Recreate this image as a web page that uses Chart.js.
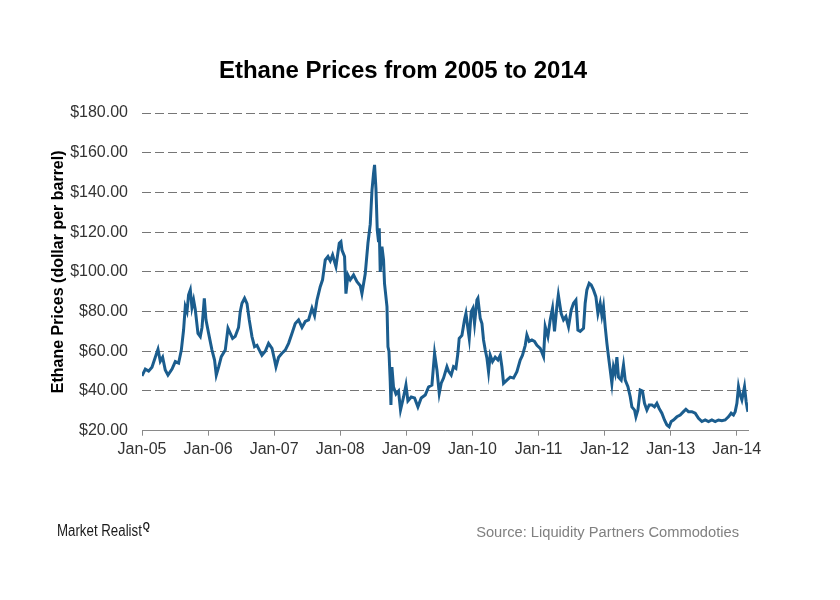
<!DOCTYPE html>
<html>
<head>
<meta charset="utf-8">
<script src="https://cdn.jsdelivr.net/npm/chart.js@4/dist/chart.umd.min.js"></script>
<style>
  html, body { margin: 0; padding: 0; background: #ffffff; }
  #wrap { position: relative; width: 840px; height: 600px; overflow: hidden; }
  #c { position: absolute; left: 0; top: 0; }
  .txt { position: absolute; white-space: nowrap; }
  #title { left: 0; width: 806px; top: 56px; text-align: center; font: bold 24px/28px "Liberation Sans", Arial, sans-serif; color: #000; }
  #brand { left: 57px; top: 521px; font: 16px/20px "Liberation Sans Narrow", "Liberation Sans", Arial, sans-serif; color: #1a1a1a; transform: scaleX(0.83); transform-origin: left center; }
  #brand sup { font: bold 11px/10px "Liberation Sans", Arial, sans-serif; vertical-align: 6px; margin-left: 1px; }
  #source { right: 101px; top: 523px; font: 14.7px/18px "Liberation Sans", Arial, sans-serif; color: #808080; }
</style>
</head>
<body>
<div id="wrap">
  <canvas id="c" width="840" height="600"></canvas>
  <div class="txt" id="title">Ethane Prices from 2005 to 2014</div>
  <div class="txt" id="brand">Market Realist<sup>Q</sup></div>
  <div class="txt" id="source">Source: Liquidity Partners Commodoties</div>
</div>
<script>
// ---- data (time in decimal years, price in $/barrel) ----
const timeYears = [
  2005.000, 2005.050, 2005.100, 2005.151, 2005.201, 2005.242, 2005.277, 2005.312, 2005.352, 2005.393,
  2005.454, 2005.504, 2005.554, 2005.595, 2005.629, 2005.655, 2005.681, 2005.705, 2005.731, 2005.756,
  2005.781, 2005.806, 2005.847, 2005.882, 2005.908, 2005.943, 2005.968,
  2006.008, 2006.059, 2006.098, 2006.124, 2006.159, 2006.200, 2006.260, 2006.301, 2006.336, 2006.371,
  2006.411, 2006.461, 2006.487, 2006.513, 2006.552, 2006.589, 2006.623, 2006.664, 2006.703, 2006.740,
  2006.775, 2006.815, 2006.865, 2006.915, 2006.967,
  2007.006, 2007.027, 2007.067, 2007.118, 2007.168, 2007.218, 2007.269, 2007.319, 2007.369, 2007.421,
  2007.471, 2007.520, 2007.572, 2007.611, 2007.648, 2007.697, 2007.732, 2007.773, 2007.814, 2007.849,
  2007.884, 2007.935, 2007.985,
  2008.010, 2008.026, 2008.065, 2008.086, 2008.116, 2008.151, 2008.201, 2008.253, 2008.303, 2008.328,
  2008.378, 2008.419, 2008.454, 2008.480, 2008.504, 2008.519, 2008.540, 2008.560, 2008.580, 2008.590,
  2008.605, 2008.631, 2008.655, 2008.670, 2008.707, 2008.722, 2008.737, 2008.756, 2008.767, 2008.782,
  2008.806, 2008.843, 2008.882, 2008.912, 2008.958, 2008.994,
  2009.024, 2009.074, 2009.124, 2009.175, 2009.225, 2009.286, 2009.336, 2009.387, 2009.427, 2009.463,
  2009.498, 2009.528, 2009.563, 2009.614, 2009.638, 2009.679, 2009.714, 2009.750, 2009.780, 2009.800,
  2009.841, 2009.880, 2009.902, 2009.932, 2009.952, 2009.982,
  2010.008, 2010.032, 2010.068, 2010.083, 2010.118, 2010.144, 2010.168, 2010.194, 2010.219, 2010.244,
  2010.269, 2010.304, 2010.345, 2010.386, 2010.421, 2010.446, 2010.471, 2010.522, 2010.572, 2010.622,
  2010.673, 2010.723, 2010.758, 2010.799, 2010.824, 2010.859, 2010.900, 2010.939, 2010.976,
  2011.026, 2011.076, 2011.101, 2011.142, 2011.177, 2011.212, 2011.242, 2011.278, 2011.300, 2011.343,
  2011.378, 2011.414, 2011.454, 2011.495, 2011.530, 2011.566, 2011.596, 2011.631, 2011.681, 2011.706,
  2011.732, 2011.767, 2011.797, 2011.832, 2011.868, 2011.899, 2011.933, 2011.959, 2011.983,
  2012.009, 2012.035, 2012.059, 2012.085, 2012.110, 2012.134, 2012.160, 2012.186, 2012.210, 2012.251,
  2012.286, 2012.312, 2012.353, 2012.388, 2012.413, 2012.453, 2012.474, 2012.504, 2012.539, 2012.573,
  2012.604, 2012.640, 2012.675, 2012.716, 2012.755, 2012.791, 2012.826, 2012.867, 2012.906, 2012.943,
  2012.977,
  2013.008, 2013.042, 2013.094, 2013.144, 2013.194, 2013.230, 2013.269, 2013.321, 2013.371, 2013.421,
  2013.472, 2013.522, 2013.572, 2013.623, 2013.673, 2013.723, 2013.775, 2013.824, 2013.874, 2013.915,
  2013.950, 2013.976,
  2014.002, 2014.026, 2014.052, 2014.077, 2014.117, 2014.142, 2014.160, 2014.170
];

const ethanePrices = [
  47.6, 51.0, 50.0, 52.0, 57.0, 61.0, 55.0, 57.0, 50.6, 48.0,
  51.0, 54.8, 54.0, 60.6, 70.7, 82.5, 80.0, 88.4, 90.9, 82.0,
  85.8, 81.0, 69.0, 67.4, 72.0, 86.7, 75.8,
  69.0, 60.6, 55.6, 48.0, 52.0, 57.3, 60.6, 71.6, 69.0, 66.5,
  67.5, 72.0, 80.0, 84.2, 86.7, 84.0, 75.8, 67.4, 62.3, 63.0,
  60.6, 58.0, 60.0, 64.0, 61.5,
  55.6, 52.2, 57.0, 59.0, 60.6, 64.0, 69.0, 74.0, 75.8, 72.0,
  75.0, 75.8, 81.7, 78.0, 85.8, 92.5, 96.0, 106.0, 107.7, 105.5,
  108.5, 102.6, 114.4,
  115.2, 111.0, 107.7, 89.0, 98.4, 96.0, 98.4, 95.0, 93.0, 89.0,
  99.0, 114.4, 124.0, 141.0, 149.7, 153.9, 142.0, 121.0, 115.0, 122.0,
  100.0, 112.7, 106.0, 94.0, 82.5, 62.3, 60.0, 45.0, 33.0, 52.0,
  42.0, 38.5, 40.0, 30.4, 37.0, 43.0,
  35.0, 37.0, 36.5, 32.0, 36.5, 38.0, 42.0, 43.0, 59.0, 50.6,
  38.8, 43.9, 46.5, 52.2, 50.0, 48.0, 52.2, 51.4, 59.0, 66.5,
  68.0, 75.8, 79.0, 71.5, 66.5, 80.0,
  81.7, 74.0, 85.8, 86.7, 76.6, 74.0, 65.7, 60.6, 56.7, 49.7,
  58.0, 54.8, 57.0, 55.6, 58.0, 52.2, 43.9, 45.5, 47.0, 46.5,
  49.7, 55.6, 58.0, 63.0, 68.2, 65.0, 65.7, 65.0, 63.0,
  61.5, 57.3, 72.4, 67.4, 75.8, 81.7, 70.0, 82.5, 88.4, 79.0,
  75.8, 77.5, 72.4, 80.8, 84.2, 85.8, 70.7, 70.0, 71.6, 84.2,
  90.9, 94.2, 93.4, 90.9, 87.5, 79.0, 84.2, 78.0, 82.5,
  72.4, 64.0, 57.3, 50.6, 43.9, 52.2, 48.9, 57.0, 47.0, 45.5,
  53.1, 45.5, 42.2, 37.1, 32.0, 30.4, 27.0, 30.4, 40.5, 40.0,
  33.8, 30.4, 33.0, 33.0, 32.0, 33.8, 31.2, 28.8, 25.4, 22.9,
  22.0,
  24.6, 25.4, 27.0, 27.9, 29.6, 30.8, 29.6, 29.6, 28.8, 26.2,
  24.6, 25.4, 24.6, 25.4, 24.6, 25.4, 25.0, 25.4, 27.0, 28.8,
  27.9, 29.6,
  33.8, 42.2, 38.0, 35.5, 42.2, 34.6, 31.0, 29.5
];

const tickYears = [2005, 2006, 2007, 2008, 2009, 2010, 2011, 2012, 2013, 2014];
const tickLabels = ['Jan-05', 'Jan-06', 'Jan-07', 'Jan-08', 'Jan-09', 'Jan-10', 'Jan-11', 'Jan-12', 'Jan-13', 'Jan-14'];
const yTickValues = [20, 40, 60, 80, 100, 120, 140, 160, 180];

const points = timeYears.map((t, i) => ({ x: t, y: ethanePrices[i] }));
const axisGray = '#8a8a8a';
const labelFont = { family: '"Liberation Sans", Arial, sans-serif', size: 16 };

new Chart(document.getElementById('c'), {
  type: 'line',
  data: {
    datasets: [{
      label: 'Ethane',
      data: points,
      borderColor: '#1b5d8e',
      borderWidth: 3,
      pointRadius: 0,
      tension: 0,
      fill: false
    }]
  },
  options: {
    responsive: false,
    devicePixelRatio: 1,
    animation: false,
    layout: { padding: { top: 113, right: 92, bottom: 0, left: 49 } },
    plugins: {
      legend: { display: false },
      title: { display: false },
      tooltip: { enabled: false }
    },
    scales: {
      x: {
        type: 'linear',
        min: 2005,
        max: 2014.17,
        afterFit: s => { s.height = 169.3; },
        afterBuildTicks: s => { s.ticks = tickYears.map(v => ({ value: v })); },
        grid: { display: true, drawOnChartArea: false, drawTicks: true, tickLength: 5, color: axisGray, lineWidth: 1 },
        border: { display: true, color: axisGray, width: 1 },
        ticks: {
          autoSkip: false, maxRotation: 0, minRotation: 0, padding: 4,
          color: '#333333', font: labelFont,
          callback: v => tickLabels[tickYears.indexOf(v)]
        }
      },
      y: {
        type: 'linear',
        min: 20,
        max: 180,
        afterFit: s => { s.width = 93; },
        afterBuildTicks: s => { s.ticks = yTickValues.map(v => ({ value: v })); },
        grid: {
          display: true, drawTicks: false, lineWidth: 1,
          color: ctx => (ctx.tick && ctx.tick.value === 20) ? 'rgba(0,0,0,0)' : '#767676'
        },
        border: { display: false, dash: [9, 4] },
        ticks: {
          padding: 14, color: '#333333', font: labelFont,
          callback: v => '$' + Number(v).toFixed(2)
        },
        title: {
          display: true,
          text: 'Ethane Prices (dollar per barrel)',
          color: '#000000',
          font: { family: '"Liberation Sans", Arial, sans-serif', size: 16, weight: 'bold' },
          padding: { top: 0, bottom: 0 }
        }
      }
    }
  }
});
</script>
</body>
</html>
